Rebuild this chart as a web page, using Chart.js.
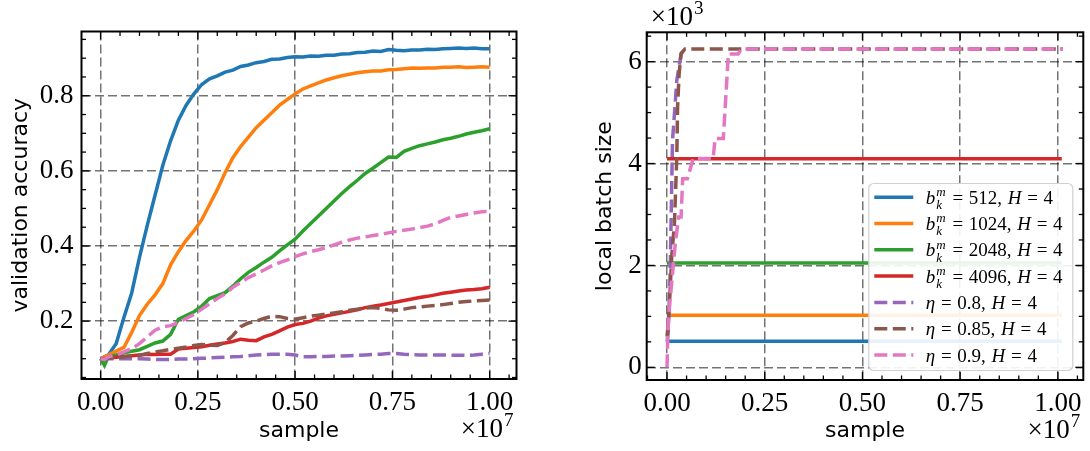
<!DOCTYPE html>
<html>
<head>
<meta charset="utf-8">
<script src="https://cdn.jsdelivr.net/npm/chart.js@4.4.0/dist/chart.umd.min.js"></script>
<style>
  html, body { margin: 0; padding: 0; background: #fff; }
  #wrap { position: relative; width: 1090px; height: 451px; }
  .panel { position: absolute; top: 0; height: 451px; }
  #left { left: 0; width: 560px; }
  #right { left: 560px; width: 530px; }
</style>
</head>
<body>
<div id="wrap">
  <div class="panel" id="left"><canvas id="accChart" width="560" height="451"></canvas></div>
  <div class="panel" id="right"><canvas id="batchChart" width="530" height="451"></canvas></div>
</div>
<script>
// x values are in units of 1e7 samples
const sampleX = [0, 0.01, 0.02, 0.04, 0.06, 0.08, 0.10, 0.12, 0.14, 0.16,
  0.18, 0.20, 0.22, 0.24, 0.26, 0.28, 0.30, 0.32, 0.34, 0.36,
  0.38, 0.40, 0.42, 0.44, 0.46, 0.48, 0.50, 0.52, 0.54, 0.56,
  0.58, 0.60, 0.62, 0.64, 0.66, 0.68, 0.70, 0.72, 0.74, 0.76,
  0.78, 0.80, 0.82, 0.84, 0.86, 0.88, 0.90, 0.92, 0.94, 0.96,
  0.98, 1.00];

const acc512 = [0.100, 0.105, 0.110, 0.140, 0.210, 0.275, 0.370, 0.455, 0.535, 0.615,
  0.680, 0.735, 0.775, 0.805, 0.830, 0.845, 0.853, 0.863, 0.868, 0.878,
  0.882, 0.888, 0.891, 0.897, 0.898, 0.902, 0.904, 0.903, 0.906, 0.905,
  0.908, 0.908, 0.911, 0.912, 0.915, 0.916, 0.919, 0.918, 0.923, 0.921,
  0.920, 0.922, 0.922, 0.924, 0.923, 0.925, 0.926, 0.927, 0.926, 0.927,
  0.925, 0.925];
const acc1024 = [0.100, 0.105, 0.110, 0.120, 0.130, 0.170, 0.215, 0.245, 0.270, 0.300,
  0.350, 0.385, 0.415, 0.440, 0.470, 0.510, 0.550, 0.595, 0.635, 0.665,
  0.690, 0.715, 0.735, 0.755, 0.775, 0.790, 0.805, 0.818, 0.826, 0.834,
  0.842, 0.848, 0.853, 0.857, 0.861, 0.864, 0.866, 0.866, 0.869, 0.870,
  0.872, 0.874, 0.873, 0.874, 0.874, 0.876, 0.876, 0.877, 0.875, 0.876,
  0.877, 0.876];
const acc2048 = [0.100, 0.082, 0.105, 0.110, 0.116, 0.120, 0.124, 0.133, 0.142, 0.147,
  0.165, 0.205, 0.215, 0.225, 0.240, 0.260, 0.268, 0.276, 0.293, 0.313,
  0.330, 0.343, 0.357, 0.370, 0.387, 0.403, 0.418, 0.440, 0.460, 0.480,
  0.500, 0.520, 0.540, 0.558, 0.575, 0.593, 0.607, 0.622, 0.637, 0.636,
  0.652, 0.660, 0.667, 0.672, 0.677, 0.683, 0.687, 0.692, 0.698, 0.703,
  0.707, 0.712];
const acc4096 = [0.100, 0.100, 0.102, 0.104, 0.106, 0.108, 0.110, 0.112, 0.111, 0.112,
  0.112, 0.126, 0.128, 0.130, 0.132, 0.136, 0.139, 0.142, 0.146, 0.152,
  0.149, 0.148, 0.158, 0.165, 0.174, 0.184, 0.191, 0.194, 0.200, 0.208,
  0.214, 0.218, 0.222, 0.226, 0.230, 0.236, 0.240, 0.243, 0.247, 0.251,
  0.255, 0.259, 0.263, 0.266, 0.270, 0.274, 0.277, 0.280, 0.283, 0.284,
  0.286, 0.290];
const accEta080 = [0.100, 0.100, 0.100, 0.100, 0.100, 0.100, 0.100, 0.099, 0.098, 0.098,
  0.098, 0.099, 0.099, 0.100, 0.101, 0.102, 0.103, 0.104, 0.105, 0.106,
  0.108, 0.110, 0.111, 0.112, 0.112, 0.112, 0.110, 0.105, 0.105, 0.106,
  0.106, 0.107, 0.107, 0.108, 0.109, 0.110, 0.111, 0.112, 0.114, 0.114,
  0.112, 0.111, 0.110, 0.110, 0.110, 0.110, 0.109, 0.109, 0.109, 0.110,
  0.112, 0.114];
const accEta085 = [0.100, 0.100, 0.101, 0.103, 0.105, 0.107, 0.109, 0.114, 0.118, 0.121,
  0.125, 0.128, 0.131, 0.135, 0.138, 0.136, 0.135, 0.143, 0.162, 0.185,
  0.195, 0.200, 0.207, 0.213, 0.212, 0.207, 0.205, 0.209, 0.213, 0.216,
  0.219, 0.222, 0.225, 0.229, 0.232, 0.235, 0.236, 0.234, 0.230, 0.229,
  0.232, 0.236, 0.238, 0.240, 0.242, 0.244, 0.247, 0.250, 0.252, 0.254,
  0.255, 0.256];
const accEta090 = [0.100, 0.098, 0.105, 0.110, 0.118, 0.127, 0.140, 0.158, 0.176, 0.185,
  0.188, 0.196, 0.207, 0.218, 0.232, 0.246, 0.260, 0.273, 0.290, 0.303,
  0.316, 0.326, 0.336, 0.347, 0.356, 0.363, 0.372, 0.379, 0.385, 0.390,
  0.396, 0.403, 0.410, 0.416, 0.421, 0.424, 0.428, 0.431, 0.435, 0.439,
  0.442, 0.445, 0.449, 0.453, 0.459, 0.468, 0.476, 0.480, 0.484, 0.488,
  0.491, 0.492];

// local batch size curves (right panel)
const constX = [0, 1.01];
const batch512 = [512, 512];
const batch1024 = [1024, 1024];
const batch2048 = [2048, 2048];
const batch4096 = [4096, 4096];
const eta080X = [0, 0.003, 0.008, 0.011, 0.014, 0.019, 0.025, 0.036, 0.046];
const eta080Y = [500, 670, 1850, 3150, 4450, 4980, 5630, 6150, 6250];
const eta085X = [0, 0.003, 0.008, 0.012, 0.019, 0.022, 0.025, 0.027, 0.031, 0.036, 0.046, 1.013];
const eta085Y = [600, 860, 1520, 2170, 2820, 3480, 4130, 5110, 5770, 6160, 6250, 6250];
const eta090X = [0, 0.003, 0.010, 0.016, 0.022, 0.030, 0.036, 0.040, 0.052, 0.067, 0.118, 0.123, 0.144, 0.157, 0.182, 0.190, 1.013];
const eta090Y = [0, 900, 1500, 2000, 2500, 2950, 2950, 3700, 3700, 4100, 4100, 4490, 4490, 6150, 6150, 6250, 6250];

const seriesLabels = ['b_k^m = 512, H = 4', 'b_k^m = 1024, H = 4', 'b_k^m = 2048, H = 4',
  'b_k^m = 4096, H = 4', 'η = 0.8, H = 4', 'η = 0.85, H = 4', 'η = 0.9, H = 4'];
const seriesColors = ['#1f77b4', '#ff7f0e', '#2ca02c', '#d62728', '#9467bd', '#8c564b', '#e377c2'];
const seriesDashed = [false, false, false, false, true, true, true];

const xTicks = [0, 0.25, 0.5, 0.75, 1.0];
const accTicks = [0.2, 0.4, 0.6, 0.8];
const batchTicks = [0, 2000, 4000, 6000];

const SERIF = '"Liberation Serif", "DejaVu Serif", serif';
const tickFont = { family: SERIF, size: 27 };
const labelFont = { family: '"DejaVu Sans", sans-serif', size: 22 };
const GRID = 'rgba(0,0,0,0.55)';
const DASH = [13, 5.5];

function pts(xs, ys) {
  return xs.map((x, i) => ({ x: x, y: ys[i] }));
}

function makeDataset(i, data) {
  return {
    label: seriesLabels[i],
    data: data,
    borderColor: seriesColors[i],
    backgroundColor: seriesColors[i],
    borderWidth: 3.5,
    borderDash: seriesDashed[i] ? DASH : [],
    borderCapStyle: 'butt',
    pointRadius: 0,
    tension: 0,
    fill: false,
    order: 10 - i
  };
}

// draws "×10" with a raised exponent
function drawPower(ctx, exp, x, y, alignRight) {
  ctx.save();
  ctx.fillStyle = '#000';
  ctx.textBaseline = 'alphabetic';
  ctx.font = '27px ' + SERIF;
  const base = '×10';
  const bw = ctx.measureText(base).width;
  ctx.font = '19px ' + SERIF;
  const ew = ctx.measureText(exp).width;
  let x0 = alignRight ? x - bw - ew - 1 : x;
  ctx.font = '27px ' + SERIF;
  ctx.fillText(base, x0, y);
  ctx.font = '19px ' + SERIF;
  ctx.fillText(exp, x0 + bw + 1, y - 11);
  ctx.restore();
}

// frame + inward ticks on every side, as in the matplotlib style
const axesFrame = {
  id: 'axesFrame',
  afterDraw(chart, args, opts) {
    const { ctx, chartArea: a } = chart;
    const xs = chart.scales.x, ys = chart.scales.y;
    ctx.save();
    ctx.strokeStyle = '#000';
    ctx.lineWidth = 1.3;
    const line = (x1, y1, x2, y2) => {
      ctx.beginPath(); ctx.moveTo(x1, y1); ctx.lineTo(x2, y2); ctx.stroke();
    };
    const majX = xs.ticks.map(t => t.value);
    const majY = ys.ticks.map(t => t.value);
    for (let v = Math.ceil(xs.min / opts.xMinor) * opts.xMinor; v <= xs.max; v += opts.xMinor) {
      const p = xs.getPixelForValue(v);
      const major = majX.some(m => Math.abs(m - v) < opts.xMinor / 10);
      const len = major ? 8 : 4.5;
      line(p, a.bottom, p, a.bottom - len);
      line(p, a.top, p, a.top + len);
    }
    for (let v = Math.ceil(ys.min / opts.yMinor) * opts.yMinor; v <= ys.max; v += opts.yMinor) {
      const p = ys.getPixelForValue(v);
      const major = majY.some(m => Math.abs(m - v) < opts.yMinor / 10);
      const len = major ? 8 : 4.5;
      line(a.left, p, a.left + len, p);
      line(a.right, p, a.right - len, p);
    }
    ctx.lineWidth = 2;
    ctx.strokeRect(a.left, a.top, a.right - a.left, a.bottom - a.top);
    ctx.restore();

    drawPower(ctx, opts.xExp, a.right - 3, a.bottom + 58, true);
    if (opts.yExp) drawPower(ctx, opts.yExp, a.left + 4, a.top - 7, false);
  }
};

// small tex-like label drawing: italic letters with _sub / ^sup, wide spaces
function drawMath(ctx, str, x, y, size) {
  let i = 0;
  while (i < str.length) {
    const c = str[i];
    if (c === ' ') {
      x += size * 0.3;
      i++;
    } else if (/[A-Za-zη]/.test(c)) {
      ctx.font = 'italic ' + size + 'px ' + SERIF;
      ctx.fillText(c, x, y);
      x += ctx.measureText(c).width;
      i++;
      let sup = '', sub = '';
      while (str[i] === '_' || str[i] === '^') {
        if (str[i] === '_') sub = str[i + 1]; else sup = str[i + 1];
        i += 2;
      }
      if (sup || sub) {
        ctx.font = 'italic ' + Math.round(size * 0.7) + 'px ' + SERIF;
        let w = 0;
        if (sup) { ctx.fillText(sup, x + 1, y - size * 0.4); w = ctx.measureText(sup).width; }
        if (sub) { ctx.fillText(sub, x + 1, y + size * 0.28); w = Math.max(w, ctx.measureText(sub).width); }
        x += w + 2;
      }
    } else {
      let run = '';
      while (i < str.length && str[i] !== ' ' && !/[A-Za-zη]/.test(str[i])) { run += str[i]; i++; }
      ctx.font = size + 'px ' + SERIF;
      ctx.fillText(run, x, y);
      x += ctx.measureText(run).width;
    }
  }
}

const mathLegend = {
  id: 'mathLegend',
  afterDraw(chart) {
    const { ctx, chartArea: a } = chart;
    const w = 204, h = 187;
    const bx = a.right - 10.5 - w, by = a.bottom - 9.5 - h;
    ctx.save();
    ctx.beginPath();
    ctx.roundRect(bx, by, w, h, 5);
    ctx.fillStyle = 'rgba(255,255,255,0.9)';
    ctx.fill();
    ctx.strokeStyle = '#d0d0d0';
    ctx.lineWidth = 1.2;
    ctx.stroke();
    chart.data.datasets.forEach((ds, i) => {
      const ly = by + 13.7 + i * 26.3;
      ctx.strokeStyle = ds.borderColor;
      ctx.lineWidth = 3.5;
      ctx.setLineDash(ds.borderDash);
      ctx.beginPath();
      ctx.moveTo(bx + 5.5, ly);
      ctx.lineTo(bx + 44.5, ly);
      ctx.stroke();
      ctx.setLineDash([]);
      ctx.fillStyle = '#000';
      ctx.textBaseline = 'alphabetic';
      drawMath(ctx, ds.label, bx + 57, ly + 6.5, 19);
    });
    ctx.restore();
  }
};

function xScale(min, max) {
  return {
    type: 'linear', min: min, max: max,
    afterBuildTicks: s => { s.ticks = xTicks.map(v => ({ value: v })); },
    grid: { color: GRID, lineWidth: 1.5, drawTicks: false },
    border: { display: false, dash: [9, 4] },
    ticks: { font: tickFont, color: '#000', padding: 8, maxRotation: 0, autoSkip: false,
      callback: v => v.toFixed(2) },
    title: { display: true, text: 'sample', font: labelFont, color: '#000', padding: { top: 0, bottom: 7 } }
  };
}

Chart.defaults.font.family = SERIF;

const accChart = new Chart(document.getElementById('accChart'), {
  type: 'line',
  data: {
    datasets: [acc512, acc1024, acc2048, acc4096, accEta080, accEta085, accEta090]
      .map((ys, i) => makeDataset(i, pts(sampleX, ys)))
  },
  options: {
    responsive: false, animation: false, devicePixelRatio: 1, events: [],
    layout: { padding: { left: 0, top: 31.5, right: 43.5, bottom: 0 } },
    scales: {
      x: Object.assign(xScale(-0.049, 1.069), { afterFit: s => { s.height = 72; } }),
      y: {
        type: 'linear', min: 0.046, max: 0.971,
        afterBuildTicks: s => { s.ticks = accTicks.map(v => ({ value: v })); },
        afterFit: s => { s.width = 81.5; },
        grid: { color: GRID, lineWidth: 1.5, drawTicks: false },
        border: { display: false, dash: [9, 4] },
        ticks: { font: tickFont, color: '#000', padding: 8, callback: v => v.toFixed(1) },
        title: { display: true, text: 'validation accuracy', font: labelFont, color: '#000', padding: { top: 8, bottom: 0 } }
      }
    },
    plugins: {
      legend: { display: false },
      tooltip: { enabled: false },
      axesFrame: { xMinor: 0.05, yMinor: 0.05, xExp: '7' }
    }
  },
  plugins: [axesFrame]
});

const batchChart = new Chart(document.getElementById('batchChart'), {
  type: 'line',
  data: {
    datasets: [
      makeDataset(0, pts(constX, batch512)),
      makeDataset(1, pts(constX, batch1024)),
      makeDataset(2, pts(constX, batch2048)),
      makeDataset(3, pts(constX, batch4096)),
      makeDataset(4, pts(eta080X, eta080Y)),
      makeDataset(5, pts(eta085X, eta085Y)),
      makeDataset(6, pts(eta090X, eta090Y))
    ]
  },
  options: {
    responsive: false, animation: false, devicePixelRatio: 1, events: [],
    layout: { padding: { left: 0, top: 32.3, right: 6.7, bottom: 0 } },
    scales: {
      x: Object.assign(xScale(-0.052, 1.065), { afterFit: s => { s.height = 71; } }),
      y: {
        type: 'linear', min: -249, max: 6576,
        afterBuildTicks: s => { s.ticks = batchTicks.map(v => ({ value: v })); },
        afterFit: s => { s.width = 86.7; },
        grid: { color: GRID, lineWidth: 1.5, drawTicks: false },
        border: { display: false, dash: [9, 4] },
        ticks: { font: tickFont, color: '#000', padding: 5, callback: v => String(v / 1000) },
        title: { display: true, text: 'local batch size', font: labelFont, color: '#000', padding: { top: 31.8, bottom: 0 } }
      }
    },
    plugins: {
      legend: { display: false },
      tooltip: { enabled: false },
      axesFrame: { xMinor: 0.05, yMinor: 500, xExp: '7', yExp: '3' }
    }
  },
  plugins: [axesFrame, mathLegend]
});
</script>
</body>
</html>
